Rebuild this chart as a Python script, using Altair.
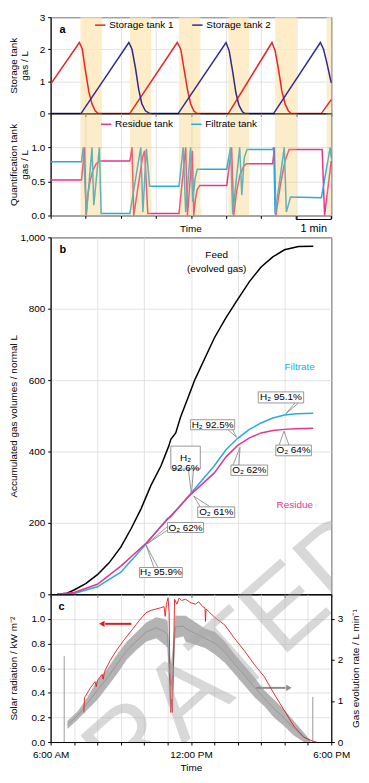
import altair as alt
import pandas as pd

FONT = "Liberation Sans"

# ---------------- panel a : time in minutes ----------------
shade_start = [0.85, 2.26, 3.66, 5.07, 6.40, 7.87]
shade_end = [1.46, 2.87, 4.27, 5.66, 7.01, 8.00]

tank1_t = [0.00, 0.82, 0.90, 0.99, 1.09, 1.18, 1.27, 1.35, 2.26, 3.61, 3.71, 3.80, 3.90, 3.99, 4.08, 4.16,
           5.07, 6.31, 6.40, 6.50, 6.59, 6.69, 6.78, 6.85, 7.72, 8.00]
tank1_v = [0.91, 2.21, 2.02, 1.35, 0.67, 0.29, 0.08, 0.00, 0.00, 2.21, 2.00, 1.40, 0.75, 0.30, 0.08, 0.00,
           0.00, 2.21, 1.95, 1.35, 0.70, 0.28, 0.07, 0.00, 0.00, 0.43]
tank2_t = [0.00, 0.87, 2.23, 2.32, 2.42, 2.51, 2.60, 2.70, 2.82, 3.64, 5.00, 5.09, 5.19, 5.28, 5.37, 5.47,
           5.53, 6.36, 7.69, 7.78, 7.87, 7.97, 8.00]
tank2_v = [0.00, 0.00, 2.21, 2.00, 1.40, 0.75, 0.30, 0.08, 0.00, 0.00, 2.21, 1.95, 1.30, 0.65, 0.25, 0.05,
           0.00, 0.00, 2.21, 2.00, 1.60, 1.10, 0.95]

res_t = [0.00, 0.88, 0.97, 1.01, 1.06, 1.12, 1.20, 1.30, 1.40, 2.26, 2.32, 2.37, 2.50, 2.62, 2.68, 2.77,
         3.66, 3.85, 3.90, 4.04, 4.08, 4.13, 4.18, 4.25, 5.02, 5.16, 5.22, 5.30, 5.40, 5.50, 5.58,
         6.33, 6.38, 6.42, 6.55, 6.68, 6.80, 7.74, 7.81, 8.00]
res_v = [0.52, 0.52, 1.00, 0.00, 0.30, 0.50, 0.66, 0.76, 0.80, 0.80, 1.00, 0.00, 0.45, 0.85, 0.95, 0.03,
         0.03, 1.00, 0.00, 0.95, 0.00, 0.25, 0.38, 0.44, 0.44, 1.00, 0.00, 0.35, 0.60, 0.72, 0.76,
         0.76, 1.00, 0.00, 0.45, 0.80, 0.97, 0.97, 0.00, 0.80]
fil_t = [0.00, 0.88, 0.93, 1.02, 1.18, 1.23, 1.39, 1.44, 2.26, 2.57, 2.63, 2.73, 2.82,
         3.66, 3.78, 3.85, 3.99, 4.05, 4.12, 4.18, 5.02, 5.13, 5.19, 5.39, 5.45, 5.52, 5.60,
         6.33, 6.36, 6.40, 6.66, 6.72, 6.84, 7.72, 7.97, 8.00]
fil_v = [0.79, 0.79, 1.00, 0.02, 1.00, 0.15, 1.00, 0.03, 0.03, 1.00, 0.05, 0.98, 0.43,
         0.43, 1.00, 0.05, 1.00, 0.20, 0.55, 0.68, 0.68, 1.00, 0.02, 1.00, 0.30, 0.85, 0.97,
         0.97, 1.00, 0.02, 1.00, 0.05, 0.27, 0.26, 1.00, 0.85]

# ---------------- panel b : hours after 6:00 AM ----------------
feed_h = [0.28, 0.70, 1.00, 1.50, 2.00, 2.50, 3.00, 3.45, 3.87, 4.29, 4.72, 5.05, 5.14, 5.35, 5.55, 6.00,
          6.16, 6.68, 7.00, 7.50, 8.00, 8.50, 9.00, 9.50, 10.00, 10.60, 11.23]
feed_v = [0, 3, 12, 30, 55, 88, 132, 185, 240, 305, 360, 415, 434, 452, 495, 572,
          600, 673, 718, 775, 826, 876, 917, 945, 965, 974, 975]
filt_h = [0.28, 1.00, 2.00, 3.00, 4.08, 5.00, 5.14, 5.30, 6.00, 7.00, 7.50, 8.00, 8.50, 9.00, 9.50, 10.00,
          10.50, 11.23]
filt_v = [0, 2, 21, 62, 141, 213, 217, 230, 283, 360, 405, 437, 462, 480, 494, 502, 506, 507]
resi_h = [0.28, 1.00, 2.00, 3.00, 4.08, 5.00, 6.00, 7.00, 7.50, 8.00, 8.50, 9.00, 9.50, 10.00, 10.50, 11.23]
resi_v = [0, 5, 28, 79, 143, 210, 280, 340, 385, 417, 438, 452, 459, 462, 464, 465]

# ---------------- panel c ----------------
solar_h = [1.42, 1.45, 1.70, 1.90, 1.95, 2.00, 2.20, 2.25, 2.30, 2.54, 2.80, 3.10, 3.52, 3.80, 4.08, 4.30,
           4.50, 4.70, 4.85, 4.90, 4.95, 5.02, 5.07, 5.10, 5.14, 5.18, 5.21, 5.25, 5.30, 5.40, 5.50,
           5.60, 5.77, 6.00, 6.20, 6.33, 6.50, 6.60, 6.62, 6.65, 7.03, 7.45, 7.87, 8.29, 8.71, 9.14,
           9.56, 9.98, 10.40, 10.82, 11.24, 11.38]
solar_v = [0.24, 0.36, 0.44, 0.49, 0.45, 0.50, 0.55, 0.51, 0.57, 0.66, 0.74, 0.82, 0.92, 0.99, 1.05, 1.07,
           1.08, 1.09, 1.10, 1.02, 1.12, 1.17, 1.05, 0.50, 0.24, 0.35, 0.24, 0.60, 1.16, 1.12, 1.17,
           1.15, 1.16, 1.13, 1.12, 1.14, 1.10, 1.09, 0.98, 1.08, 1.01, 0.95, 0.84, 0.74, 0.63, 0.53,
           0.39, 0.26, 0.13, 0.04, 0.005, 0.00]
gas_h = [0.72, 1.16, 1.58, 2.00, 2.42, 2.84, 3.26, 3.68, 4.10, 4.52, 4.87, 5.00, 5.08, 5.15, 5.22, 5.33,
         5.68, 5.77, 6.19, 6.61, 7.03, 7.45, 7.87, 8.29, 8.71, 9.14, 9.56, 9.98, 10.40, 10.82, 11.10]
gas_lo = [0.32, 0.55, 0.79, 1.03, 1.34, 1.66, 2.01, 2.25, 2.45, 2.53, 2.37, 2.30, 1.00, 0.80, 1.10, 2.53,
          2.57, 2.45, 2.37, 2.29, 2.13, 1.93, 1.66, 1.38, 1.10, 0.87, 0.59, 0.39, 0.16, 0.00, 0.00]
gas_hi = [0.51, 0.75, 1.10, 1.50, 1.78, 2.13, 2.45, 2.68, 2.92, 3.04, 3.00, 2.95, 2.20, 1.90, 2.30, 3.08,
          3.08, 3.08, 2.92, 2.76, 2.68, 2.45, 2.13, 1.86, 1.58, 1.26, 1.03, 0.79, 0.51, 0.24, 0.04]
spike_h = [0.58, 11.21]
spike_v = [2.09, 1.10]

WATERMARK = "ACCELERATED ARTICLE PREVIEW"

RED = "#e5242a"
NAVY = "#2d2a8e"
PINK = "#e6358b"
CYAN = "#27abe0"
SRED = "#e01a1f"
GRAY = "#ababab"


def left_axis(title, values, fmt=None, grid=True):
    kw = dict(title=title, values=values, titleX=-42, titleBaseline="top", titleAngle=-90,
              titleAlign="center", titleLineHeight=11, tickSize=3, labelPadding=3, grid=grid)
    if fmt:
        kw["format"] = fmt
    return alt.Axis(**kw)


def series(t, v, name):
    return pd.DataFrame({"t": t, "v": v, "s": name, "i": list(range(len(t)))})


def watermark(dy):
    return alt.Chart(pd.DataFrame({"w": [WATERMARK]})).mark_text(
        fontSize=110, angle=318.5, align="center", baseline="middle", color="#a8a8a8", opacity=0.45,
        clip=True
    ).encode(text="w:N", x=alt.value(407), y=alt.value(226 + dy))


shade_df = pd.DataFrame({"s0": shade_start, "s1": shade_end})
xa_scale = alt.Scale(domain=[0, 8], nice=False, zero=False)
xa_axis = alt.Axis(values=list(range(9)), labels=False, tickSize=3, title=None, grid=True, domain=False)
W = 283

# ---- a1
tank_df = pd.concat([series(tank1_t, tank1_v, "Storage tank 1"), series(tank2_t, tank2_v, "Storage tank 2")])
shade_under = alt.Chart(shade_df).mark_rect(color="#fde7b5", opacity=0.75).encode(
    x=alt.X("s0:Q", scale=xa_scale, axis=xa_axis), x2="s1:Q")
tank_lines = alt.Chart(tank_df).mark_line(strokeWidth=1.5).encode(
    x=alt.X("t:Q", scale=xa_scale, axis=xa_axis),
    y=alt.Y("v:Q", scale=alt.Scale(domain=[0, 3], nice=False),
            axis=left_axis(["Storage tank", "gas / L"], [0, 1, 2, 3])),
    color=alt.Color("s:N", scale=alt.Scale(domain=["Storage tank 1", "Storage tank 2"], range=[RED, NAVY]),
                    legend=alt.Legend(orient="none", legendX=44, legendY=2, direction="horizontal", title=None,
                                      symbolType="stroke", symbolStrokeWidth=1.5, symbolSize=110,
                                      labelFontSize=10, columnPadding=14, labelOffset=3)),
    order="i:Q")
lab_a = alt.Chart(pd.DataFrame({"l": ["a"]})).mark_text(fontSize=11, fontWeight="bold", align="left").encode(
    text="l:N", x=alt.value(9), y=alt.value(13))
a1 = alt.layer(shade_under, tank_lines, lab_a).properties(width=W, height=97)

# ---- a2
q_df = pd.concat([series(res_t, res_v, "Residue tank"), series(fil_t, fil_v, "Filtrate tank")])
q_lines = alt.Chart(q_df).mark_line(strokeWidth=1.5).encode(
    x=alt.X("t:Q", scale=xa_scale, axis=xa_axis),
    y=alt.Y("v:Q", scale=alt.Scale(domain=[0, 1.5], nice=False),
            axis=left_axis(["Quantification tank", "gas / L"], [0, 0.5, 1.0], ".1f")),
    color=alt.Color("s:N", scale=alt.Scale(domain=["Residue tank", "Filtrate tank"], range=[PINK, CYAN]),
                    legend=alt.Legend(orient="none", legendX=50, legendY=5, direction="horizontal", title=None,
                                      symbolType="stroke", symbolStrokeWidth=1.5, symbolSize=110,
                                      labelFontSize=10, columnPadding=14, labelOffset=3)),
    order="i:Q")
shade_over = alt.Chart(shade_df).mark_rect(color="#f2c04e", opacity=0.3).encode(
    x=alt.X("s0:Q", scale=xa_scale, axis=xa_axis), x2="s1:Q")
a2 = alt.layer(q_lines, shade_over).properties(width=W, height=103)

# ---- spacer with axis title and scale bar
sp_text = pd.DataFrame({"t": [4.0, 7.5], "l": ["Time", "1 min"], "fs": [10, 11]})
sp_bar = pd.DataFrame({"t0": [7.0], "t1": [8.0]})
sp_ends = pd.DataFrame({"t": [7.0, 8.0]})
sp1 = alt.Chart(sp_text).mark_text(baseline="middle").encode(
    x=alt.X("t:Q", scale=xa_scale, axis=None), y=alt.value(14), text="l:N",
    size=alt.Size("fs:Q", scale=None))
sp2 = alt.Chart(sp_bar).mark_rule(color="#000", strokeWidth=1).encode(
    x=alt.X("t0:Q", scale=xa_scale, axis=None), x2="t1:Q", y=alt.value(4))
sp3 = alt.Chart(sp_ends).mark_rule(color="#000", strokeWidth=1).encode(
    x=alt.X("t:Q", scale=xa_scale, axis=None), y=alt.value(1), y2=alt.value(4))
spacer = alt.layer(sp1, sp2, sp3).properties(width=W, height=22, view=alt.ViewBackground(strokeOpacity=0))

# ---- b
xb_scale = alt.Scale(domain=[0, 12], nice=False, zero=False)
xb_axis = alt.Axis(values=list(range(13)), labels=False, tickSize=3, title=None, grid=True)
yb_scale = alt.Scale(domain=[0, 1000], nice=False)
yb_axis = left_axis("Accumulated gas volumes / normal L", list(range(0, 1001, 100)), ",d")


def bline(h, v, color):
    d = pd.DataFrame({"h": h, "v": v})
    return alt.Chart(d).mark_line(color=color, strokeWidth=1.5).encode(
        x=alt.X("h:Q", scale=xb_scale, axis=xb_axis), y=alt.Y("v:Q", scale=yb_scale, axis=yb_axis))


feed_line = bline(feed_h, feed_v, "#000000")
filt_line = bline(filt_h, filt_v, CYAN)
resi_line = bline(resi_h, resi_v, PINK)

labels_b = pd.DataFrame({
    "h": [7.10, 7.10, 10.65, 10.44],
    "v": [949, 910, 636, 249],
    "l": ["Feed", "(evolved gas)", "Filtrate", "Residue"],
    "c": ["#000000", "#000000", CYAN, PINK],
})
lab_b_txt = alt.Chart(labels_b).mark_text(fontSize=10).encode(
    x=alt.X("h:Q", scale=xb_scale), y=alt.Y("v:Q", scale=yb_scale), text="l:N", color=alt.Color("c:N", scale=None))

boxes = pd.DataFrame({
    "h1": [8.88, 5.98, 5.14, 6.29, 5.00, 3.80, 7.71, 9.63],
    "h2": [10.82, 7.87, 6.40, 7.87, 6.54, 5.63, 9.28, 11.15],
    "v1": [536, 461, 351, 215, 173, 47, 333, 388],
    "v2": [567, 489, 415, 245, 201, 75, 362, 418],
    "l": ["H₂ 95.1%", "H₂ 92.5%", "H₂\n92.6%", "O₂ 61%", "O₂ 62%", "H₂ 95.9%", "O₂ 62%", "O₂ 64%"],
})
boxes["hc"] = (boxes["h1"] + boxes["h2"]) / 2
boxes["vc"] = (boxes["v1"] + boxes["v2"]) / 2
leaders = pd.DataFrame({
    "h1": [10.45, 10.60, 7.58, 7.79, 5.89, 6.11, 6.40, 6.82, 5.00, 5.00, 4.42, 4.59, 7.80, 8.05, 9.77, 10.19],
    "v1": [536, 536, 461, 461, 351, 351, 245, 245, 190, 180, 75, 75, 362, 362, 418, 418],
    "h2": [10.06, 10.06, 7.95, 7.95, 6.02, 6.02, 6.12, 6.12, 4.12, 4.12, 4.08, 4.08, 8.10, 8.10, 9.98, 9.98],
    "v2": [506, 506, 440, 440, 281, 281, 275, 275, 141, 141, 138, 138, 412, 412, 457, 457],
})
lead = alt.Chart(leaders).mark_rule(color="#7f7f7f", strokeWidth=0.8).encode(
    x=alt.X("h1:Q", scale=xb_scale), y=alt.Y("v1:Q", scale=yb_scale), x2="h2:Q", y2="v2:Q")
box = alt.Chart(boxes).mark_rect(fill="#ffffff", stroke="#7f7f7f", strokeWidth=0.8).encode(
    x=alt.X("h1:Q", scale=xb_scale), x2="h2:Q", y=alt.Y("v1:Q", scale=yb_scale), y2="v2:Q")
box_txt = alt.Chart(boxes).mark_text(fontSize=10, lineBreak="\n", lineHeight=11, color="#000").encode(
    x=alt.X("hc:Q", scale=xb_scale), y=alt.Y("vc:Q", scale=yb_scale), text="l:N")
lab_b = alt.Chart(pd.DataFrame({"l": ["b"]})).mark_text(fontSize=11, fontWeight="bold", align="left").encode(
    text="l:N", x=alt.value(9), y=alt.value(13))
b = alt.layer(feed_line, filt_line, resi_line, lab_b_txt, lead, box, box_txt, lab_b,
              watermark(0)).properties(width=W, height=360)

# ---- c
xc_axis = alt.Axis(values=list(range(13)), title="Time", tickSize=3, grid=True, labelFlush=False,
                   labelOverlap=False, labelPadding=5, titlePadding=3,
                   labelExpr="datum.value == 0 ? '6:00 AM' : datum.value == 6 ? '12:00 PM' : datum.value == 12 ? '6:00 PM' : ''")
yl_scale = alt.Scale(domain=[0, 1.2], nice=False)
yr_scale = alt.Scale(domain=[0, 3.6], nice=False)
yl_axis = alt.Axis(title="Solar radiation / kW m⁻²", values=[0, 0.2, 0.4, 0.6, 0.8, 1.0], format=".1f",
                   titleX=-42, titleBaseline="top", titleAngle=-90, titleAlign="center", tickSize=3,
                   labelPadding=3, grid=True, orient="left")
yr_axis = alt.Axis(title="Gas evolution rate / L min⁻¹", values=[0, 1, 2, 3], orient="right", grid=False,
                   titleX=19, titleBaseline="top", titleAngle=-90, titleAlign="center", tickSize=3, labelPadding=3)

gas_df = pd.DataFrame({"h": gas_h, "lo": gas_lo, "hi": gas_hi})
gas_df["mid"] = (gas_df["lo"] + gas_df["hi"]) / 2
gas_band = alt.Chart(gas_df).mark_area(color=GRAY, opacity=0.9).encode(
    x=alt.X("h:Q", scale=xb_scale, axis=xc_axis), y=alt.Y("lo:Q", scale=yr_scale, axis=yr_axis), y2="hi:Q")
gas_mid = alt.Chart(gas_df).mark_line(color="#8c8c8c", strokeWidth=0.7).encode(
    x=alt.X("h:Q", scale=xb_scale, axis=xc_axis), y=alt.Y("mid:Q", scale=yr_scale, axis=yr_axis))
spk = alt.Chart(pd.DataFrame({"h": spike_h, "v": spike_v, "z": [0, 0]})).mark_rule(color="#9a9a9a", strokeWidth=1).encode(
    x=alt.X("h:Q", scale=xb_scale, axis=xc_axis), y=alt.Y("z:Q", scale=yr_scale, axis=yr_axis), y2="v:Q")
garrow = pd.DataFrame({"h0": [8.79], "h1": [10.05], "y": [1.32], "tip": [10.19]})
g_arrow_line = alt.Chart(garrow).mark_rule(color="#8c8c8c", strokeWidth=2).encode(
    x=alt.X("h0:Q", scale=xb_scale, axis=xc_axis), x2="h1:Q", y=alt.Y("y:Q", scale=yr_scale, axis=yr_axis))
g_arrow_head = alt.Chart(garrow).mark_point(shape="triangle-right", filled=True, color="#8c8c8c", size=40, opacity=1).encode(
    x=alt.X("tip:Q", scale=xb_scale, axis=xc_axis), y=alt.Y("y:Q", scale=yr_scale, axis=yr_axis))
right_group = alt.layer(gas_band, gas_mid, spk, g_arrow_line, g_arrow_head)

solar_df = pd.DataFrame({"h": solar_h, "v": solar_v})
solar_line = alt.Chart(solar_df).mark_line(color=SRED, strokeWidth=0.9).encode(
    x=alt.X("h:Q", scale=xb_scale, axis=xc_axis), y=alt.Y("v:Q", scale=yl_scale, axis=yl_axis))
rarrow = pd.DataFrame({"h0": [3.45], "h1": [2.33], "y": [0.96], "tip": [2.19]})
r_arrow_line = alt.Chart(rarrow).mark_rule(color=SRED, strokeWidth=2).encode(
    x=alt.X("h0:Q", scale=xb_scale, axis=xc_axis), x2="h1:Q", y=alt.Y("y:Q", scale=yl_scale, axis=yl_axis))
r_arrow_head = alt.Chart(rarrow).mark_point(shape="triangle-left", filled=True, color=SRED, size=40, opacity=1).encode(
    x=alt.X("tip:Q", scale=xb_scale, axis=xc_axis), y=alt.Y("y:Q", scale=yl_scale, axis=yl_axis))
lab_c = alt.Chart(pd.DataFrame({"l": ["c"]})).mark_text(fontSize=11, fontWeight="bold", align="left").encode(
    text="l:N", x=alt.value(8), y=alt.value(13))
left_group = alt.layer(solar_line, r_arrow_line, r_arrow_head, lab_c, watermark(-360))

c = alt.layer(right_group, left_group).resolve_scale(y="independent").properties(width=W, height=149)

chart = alt.vconcat(a1, a2, spacer, b, c, spacing=0, bounds="flush").resolve_scale(
    color="independent", x="independent", y="independent"
).properties(
    padding={"left": 0, "right": 0, "top": 0, "bottom": 0}
).configure(font=FONT).configure_axis(
    labelFontSize=10, titleFontSize=10, titleFontWeight="normal", labelColor="#000", titleColor="#000",
    tickColor="#000", domainColor="#000", gridColor="#dcdcdc", gridWidth=0.8
).configure_view(stroke="#000", strokeWidth=1)

chart.save("out.html", embed_options={"renderer": "svg", "actions": False})
